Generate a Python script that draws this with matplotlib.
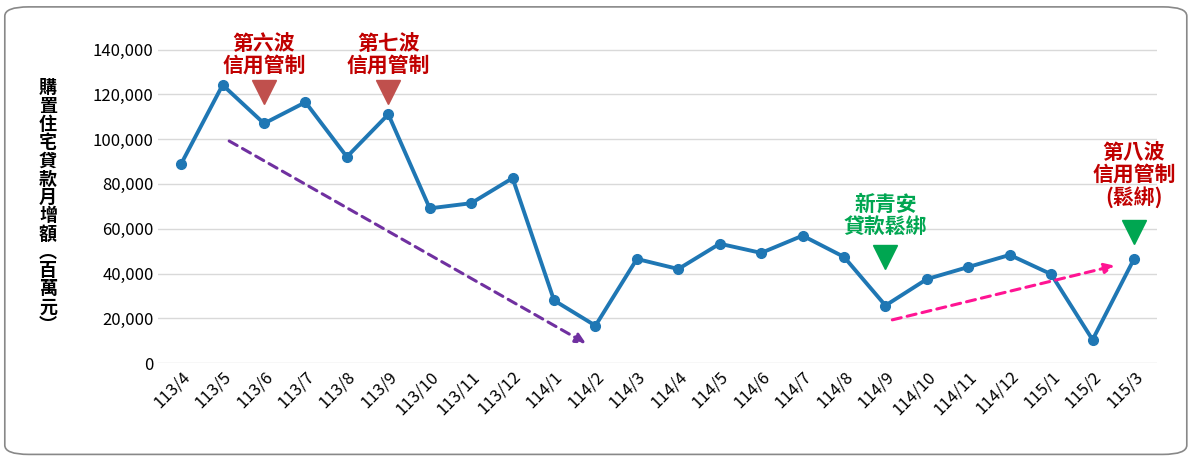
import matplotlib
matplotlib.use("Agg")
import matplotlib.pyplot as plt
from matplotlib.patches import FancyBboxPatch

plt.rcParams['font.family'] = ['Noto Sans CJK TC', 'DejaVu Sans']

months = ["113/4","113/5","113/6","113/7","113/8","113/9","113/10","113/11","113/12",
          "114/1","114/2","114/3","114/4","114/5","114/6","114/7","114/8","114/9",
          "114/10","114/11","114/12","115/1","115/2","115/3"]
values = [89000,124200,107000,116500,92100,111100,69100,71400,82600,
          28000,16700,46500,42000,53300,49200,56900,47400,25700,
          37500,42900,48300,39700,10400,46500]
yticks = [0,20000,40000,60000,80000,100000,120000,140000]
ylabel = "購置住宅貸款月增額(百萬元)"

fig = plt.figure(figsize=(12, 4.59), dpi=100)
fig.patches.append(FancyBboxPatch((0.004, 0.01), 0.985, 0.975, boxstyle="round,pad=0,rounding_size=0.02",
                                  transform=fig.transFigure, fill=False, edgecolor="#888888", lw=1.2))
ax = fig.add_axes([0.132, 0.209, 0.832, 0.70])
x = list(range(len(months)))
ax.plot(x, values, color="#1f77b4", lw=2.8, marker="o", ms=7, zorder=3)
ax.set_xlim(-0.55, len(months) - 0.45)
ax.set_ylim(0, 143500)
ax.set_yticks(yticks)
ax.set_yticklabels([f"{v:,}" for v in yticks], fontsize=12)
ax.set_xticks(x)
ax.set_xticklabels(months, rotation=45, ha="right", rotation_mode="anchor", fontsize=12)
ax.tick_params(length=0)
ax.grid(axis="y", color="#d9d9d9", lw=1)
for s in ax.spines.values():
    s.set_visible(False)
ax.set_axisbelow(True)
fig.text(0.04, 0.55, "\n".join(ylabel.replace("(", "︵").replace(")", "︶")), ha="center", va="center",
         fontsize=13, fontweight="bold", linespacing=0.95)

red = "#c00000"; tri_red = "#c0504d"; green = "#00a651"
ax.plot(2, 121000, marker="v", ms=17, color=tri_red)
ax.text(2, 138000, "第六波\n信用管制", color=red, ha="center", va="center", fontsize=15, fontweight="bold", linespacing=1.05)
ax.plot(5, 121000, marker="v", ms=17, color=tri_red)
ax.text(5, 138000, "第七波\n信用管制", color=red, ha="center", va="center", fontsize=15, fontweight="bold", linespacing=1.05)
ax.plot(17, 47500, marker="v", ms=17, color=green)
ax.text(17, 66000, "新青安\n貸款鬆綁", color=green, ha="center", va="center", fontsize=15, fontweight="bold", linespacing=1.05)
ax.plot(23, 58500, marker="v", ms=17, color=green)
ax.text(23, 84000, "第八波\n信用管制\n(鬆綁)", color=red, ha="center", va="center", fontsize=15, fontweight="bold", linespacing=1.05)

ax.annotate("", xy=(9.83, 8100), xytext=(1.1, 99800),
            arrowprops=dict(arrowstyle="-|>", color="#7030a0", lw=2.2, linestyle=(0, (3, 2)), mutation_scale=15))
ax.annotate("", xy=(22.6, 43800), xytext=(17.1, 19000),
            arrowprops=dict(arrowstyle="-|>", color="#ff1493", lw=2.2, linestyle=(0, (3, 2)), mutation_scale=15))

fig.savefig("out.png", dpi=100)
